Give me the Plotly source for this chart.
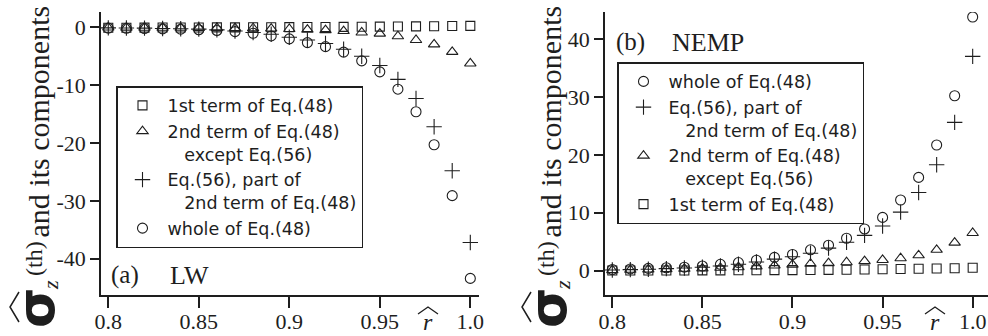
import plotly.graph_objects as go

W, H = 988, 336

r_hat = [0.80, 0.81, 0.82, 0.83, 0.84, 0.85, 0.86, 0.87, 0.88, 0.89, 0.90,
         0.91, 0.92, 0.93, 0.94, 0.95, 0.96, 0.97, 0.98, 0.99, 1.00]

# (a) LW
lw_first = [-0.08, -0.07, -0.06, -0.05, -0.04, -0.03, -0.02, -0.01, 0.0, 0.01, 0.02,
            0.04, 0.05, 0.07, 0.09, 0.11, 0.13, 0.15, 0.18, 0.21, 0.25]
lw_second_exc = [-0.05, -0.06, -0.07, -0.08, -0.09, -0.1, -0.12, -0.14, -0.17, -0.22, -0.3,
                 -0.4, -0.5, -0.65, -0.9, -1.1, -1.55, -2.2, -2.95, -4.25, -6.25]
lw_eq56 = [-0.1, -0.12, -0.15, -0.2, -0.25, -0.32, -0.45, -0.64, -0.9, -1.2, -1.73,
           -2.2, -2.8, -3.8, -5.0, -6.6, -9.0, -12.3, -17.2, -24.8, -37.2]
lw_whole = [-0.15, -0.18, -0.22, -0.27, -0.33, -0.42, -0.55, -0.76, -1.04, -1.5, -2.0,
            -2.65, -3.35, -4.3, -5.8, -7.7, -10.7, -14.6, -20.3, -29.1, -43.4]

# (b) NEMP
ne_first = [0.02, 0.02, 0.03, 0.03, 0.04, 0.05, 0.06, 0.07, 0.08, 0.09, 0.1,
            0.12, 0.14, 0.16, 0.2, 0.25, 0.28, 0.32, 0.37, 0.43, 0.5]
ne_second_exc = [0.1, 0.15, 0.2, 0.27, 0.33, 0.4, 0.5, 0.6, 0.75, 0.9, 1.05,
                 1.2, 1.3, 1.45, 1.65, 1.85, 2.15, 2.65, 3.6, 4.85, 6.5]
ne_eq56 = [0.12, 0.18, 0.25, 0.35, 0.45, 0.6, 0.8, 1.1, 1.5, 2.0, 2.4,
           3.0, 3.9, 4.9, 6.1, 7.7, 10.1, 13.5, 18.3, 25.6, 37.0]
ne_whole = [0.2, 0.3, 0.4, 0.5, 0.6, 0.8, 1.1, 1.4, 1.8, 2.3, 2.8,
            3.6, 4.4, 5.6, 7.2, 9.2, 12.2, 16.1, 21.7, 30.2, 43.8]

x_ticks = [0.8, 0.85, 0.9, 0.95, 1.0]
x_ticktext = ["0.8", "0.85", "0.9", "0.95", "1.0"]
lw_yticks = [0, -10, -20, -30, -40]
ne_yticks = [0, 10, 20, 30, 40]

NB = "\u00a0\u00a0\u00a0"
lab_first = "1st term of Eq.(48)"
lab_second = "2nd term of Eq.(48)<br>" + NB + "except Eq.(56)"
lab_eq56 = "Eq.(56), part of<br>" + NB + "2nd term of Eq.(48)"
lab_whole = "whole of Eq.(48)"

INK = "#1e1e1e"
SERIF = "Liberation Serif, Times New Roman, serif"

def px(x):
    return x / W

def py(y):
    return 1 - y / H

fig = go.Figure()

def mk(sym, size):
    return dict(symbol=sym, size=size, color=INK, line=dict(color=INK, width=1.1))

styles = {
    "first": mk("square-open", 9),
    "second": mk("triangle-up-open", 10),
    "eq56": mk("cross-thin-open", 11),
    "whole": mk("circle-open", 10),
}

def data_trace(xa, ya, leg, y, name, key):
    fig.add_trace(go.Scatter(x=r_hat, y=y, mode="markers", name=name, marker=styles[key],
                             xaxis=xa, yaxis=ya, legend=leg, showlegend=True))

# left panel: legend order square, triangle, plus, circle
data_trace("x", "y", "legend", lw_first, lab_first, "first")
data_trace("x", "y", "legend", lw_second_exc, lab_second, "second")
data_trace("x", "y", "legend", lw_eq56, lab_eq56, "eq56")
data_trace("x", "y", "legend", lw_whole, lab_whole, "whole")

# right panel: circle, plus, triangle, square
data_trace("x2", "y2", "legend2", ne_whole, lab_whole, "whole")
data_trace("x2", "y2", "legend2", ne_eq56, lab_eq56, "eq56")
data_trace("x2", "y2", "legend2", ne_second_exc, lab_second, "second")
data_trace("x2", "y2", "legend2", ne_first, lab_first, "first")

tickfont = dict(family=SERIF, size=22, color=INK)
axis_common = dict(showline=True, linecolor=INK, linewidth=1.5, ticks="outside",
                   tickwidth=1.5, tickcolor=INK, showgrid=False, zeroline=False,
                   tickfont=tickfont, automargin=False, fixedrange=True)

y_dom = [py(295), py(12)]
fig.update_layout(
    width=W, height=H, autosize=False,
    margin=dict(l=0, r=0, t=0, b=0),
    paper_bgcolor="white", plot_bgcolor="white",
    xaxis=dict(domain=[px(101), px(479)], range=[0.79597, 1.0048], tickvals=x_ticks,
               ticktext=x_ticktext, ticklen=11, ticklabelstandoff=-5, anchor="y",
               **axis_common),
    yaxis=dict(domain=y_dom, range=[-46.27, 2.64], tickvals=lw_yticks,
               ticktext=[str(v) for v in lw_yticks], ticklen=9, anchor="x", **axis_common),
    xaxis2=dict(domain=[px(605), 1.0], range=[0.79595, 1.0085], tickvals=x_ticks,
                ticktext=x_ticktext, ticklen=11, ticklabelstandoff=-5, anchor="y2",
                ticklabeloverflow="allow", **axis_common),
    yaxis2=dict(domain=y_dom, range=[-4.2, 44.66], tickvals=ne_yticks,
                ticktext=[str(v) for v in ne_yticks], ticklen=9, anchor="x2", **axis_common),
    showlegend=True,
)

legfont = dict(family="DejaVu Sans", size=17.5, color=INK)
leg_common = dict(bgcolor="white", bordercolor=INK, borderwidth=1.5, font=legfont,
                  tracegroupgap=0, itemwidth=40, xanchor="left", yanchor="top",
                  valign="top", itemclick=False, itemdoubleclick=False)
fig.update_layout(
    legend=dict(x=px(116), y=py(86), **leg_common),
    legend2=dict(x=px(617), y=py(62), **leg_common),
)

ann = []
def A(x, y, text, size, family=SERIF, angle=0, italic=False, bold=False):
    t = text
    if italic:
        t = f"<i>{t}</i>"
    if bold:
        t = f"<b>{t}</b>"
    ann.append(dict(x=px(x), y=py(y), xref="paper", yref="paper", text=t, showarrow=False,
                    font=dict(family=family, size=size, color=INK), textangle=angle,
                    xanchor="center", yanchor="middle"))

# panel labels
A(125.5, 275, "(a)", 25)
A(189, 275, "LW", 26)
A(630, 42, "(b)", 25)
A(708, 42, "NEMP", 26)

shapes = []
def hat_h(x0, x1, ytop, ybot):
    xm = (x0 + x1) / 2
    shapes.append(dict(type="path", xref="paper", yref="paper",
                       path=f"M {px(x0)} {py(ybot)} L {px(xm)} {py(ytop)} L {px(x1)} {py(ybot)}",
                       line=dict(color=INK, width=1.3)))

def hat_v(xtip, xend, y0, y1):
    ym = (y0 + y1) / 2
    shapes.append(dict(type="path", xref="paper", yref="paper",
                       path=f"M {px(xend)} {py(y0)} L {px(xtip)} {py(ym)} L {px(xend)} {py(y1)}",
                       line=dict(color=INK, width=1.5)))

for dx, xr in [(0, 428), (512, 935)]:
    # y-axis title pieces (rotated)
    A(38 + dx, 121.5, "and its components", 30, angle=-90)
    A(34 + dx, 259, "(th)", 24, angle=-90)
    A(50 + dx, 285, "z", 22, angle=-90, italic=True)
    A(36 + dx, 308, "σ", 52, family="DejaVu Sans", angle=-90, bold=True)
    hat_v(10 + dx, 19 + dx, 292, 322)
    # x-axis title r-hat
    A(xr, 321.5, "r", 24, italic=True)
    hat_h(xr - 10, xr + 10, 307, 314)

fig.update_layout(annotations=ann, shapes=shapes)

fig.write_html("out.html")
